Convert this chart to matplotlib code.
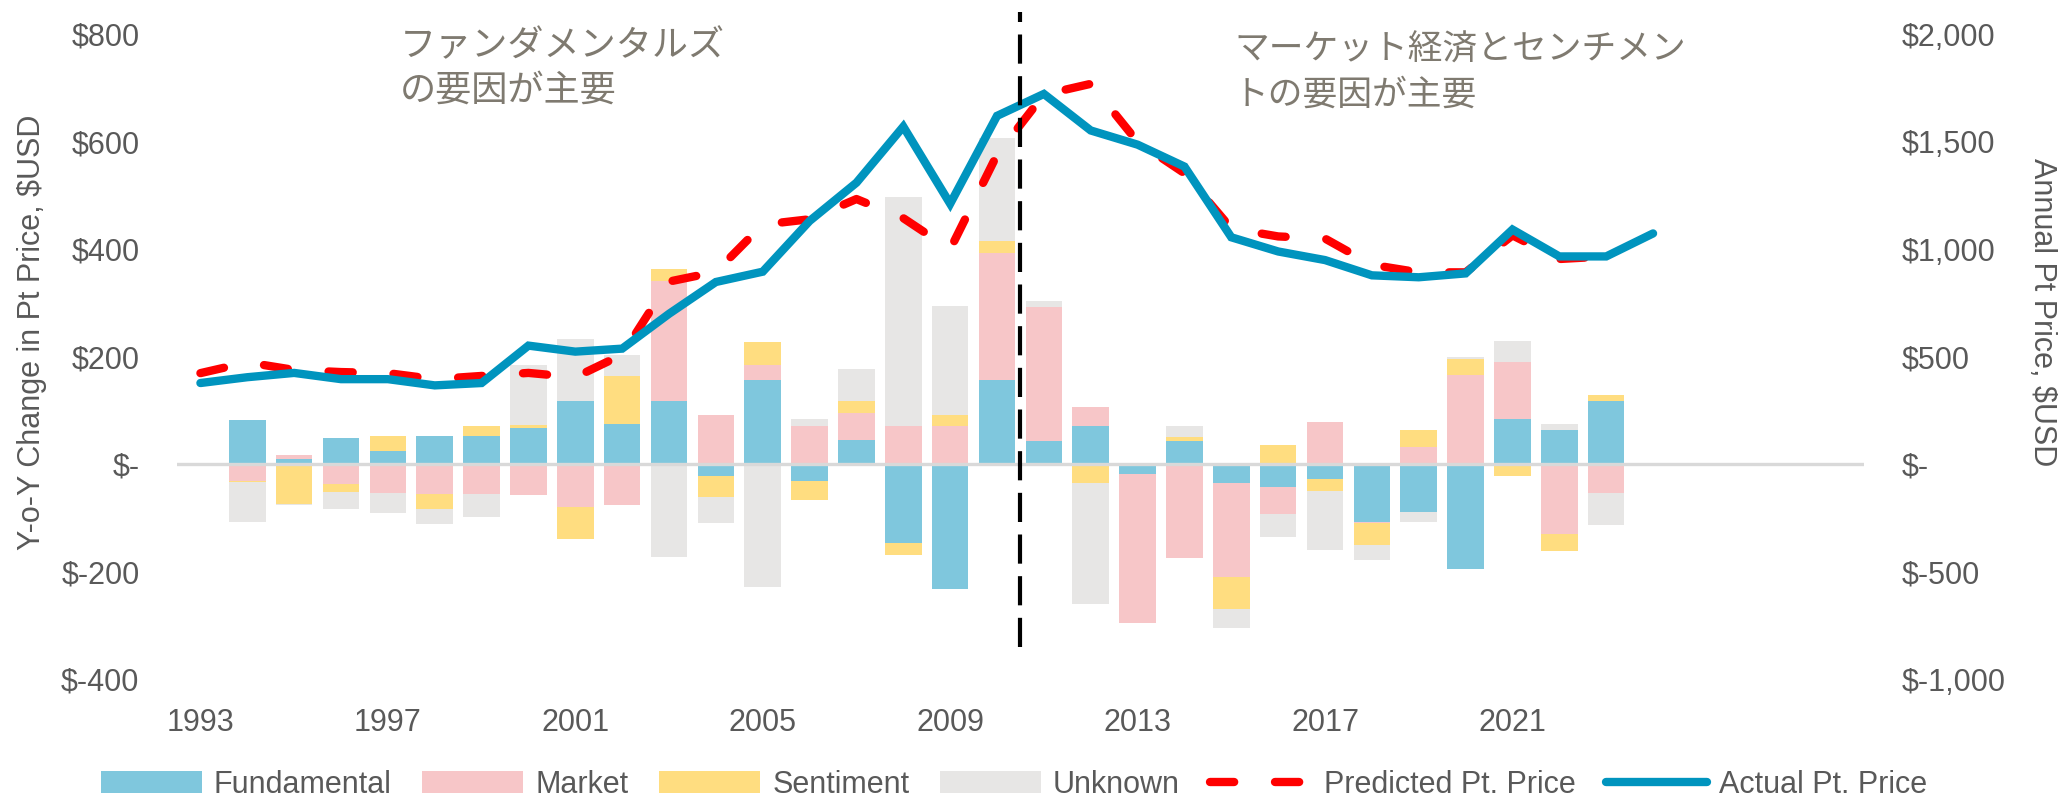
import matplotlib
matplotlib.use("Agg")
import matplotlib.pyplot as plt
from matplotlib.ticker import FixedLocator, FuncFormatter

plt.rcParams['font.family'] = ['Liberation Sans', 'DejaVu Sans']

# ---------------- data ----------------
actual_years = list(range(1993, 2025))
actual_price = [378, 405, 425, 396, 396, 367, 378, 552, 524, 538, 700, 848, 896,
                1132, 1310, 1571, 1212, 1621, 1723, 1553, 1487, 1385, 1056, 990,
                950, 879, 870, 888, 1092, 967, 967, 1074]

pred_years = list(range(1993, 2024))
pred_price = [424, 474, 439, 429, 424, 396, 411, 425, 405, 510, 850, 895, 1115,
              1140, 1234, 1145, 1000, 1440, 1720, 1770, 1500, 1354, 1097, 1060,
              1050, 928, 893, 893, 1065, 955, 967]

bar_years = list(range(1994, 2024))
fundamental = [82, 9, 49, 25, 53, 53, 67, 117, 75, 117, -21, 156, -32, 46, -147,
               -232, 156, 43, 71, -19, 43, -35, -43, -28, -108, -89, -195, 85, 64, 117]
market = [-31, 8, -36, -54, -55, -55, -58, -79, -75, 224, 92, 28, 71, 50, 71, 71,
          238, 249, 35, -276, -175, -175, -50, 78, -1, 32, 167, 106, -129, -53]
sentiment = [-2, -74, -15, 28, -28, 18, 7, -60, 89, 22, -40, 43, -35, 21, -21, 21,
             21, 0, -35, 0, 7, -60, 35, -21, -41, 32, 28, -21, -32, 11]
unknown = [-75, -2, -32, -36, -28, -43, 111, 117, 39, -172, -48, -229, 14, 60, 427,
           203, 193, 11, -225, 0, 21, -35, -43, -110, -28, -18, 4, 39, 11, -60]

series_names = ['Fundamental', 'Market', 'Sentiment', 'Unknown']
series_values = [fundamental, market, sentiment, unknown]
series_colors = ['#7FC7DD', '#F7C6C8', '#FFDD80', '#E7E6E5']

x_first, x_last = 1993, 2028
x_tick_years = [1993, 1997, 2001, 2005, 2009, 2013, 2017, 2021]
left_ticks = [-400, -200, 0, 200, 400, 600, 800]
right_ticks = [-1000, -500, 0, 500, 1000, 1500, 2000]
divider_year = 2010.5

left_note = "ファンダメンタルズ\nの要因が主要"
right_note = "マーケット経済とセンチメン\nトの要因が主要"

# ---------------- figure ----------------
fig = plt.figure(figsize=(20.58, 8), dpi=100)
ax = fig.add_axes([0.086, 0.151, 0.8197, 0.806])
ax2 = ax.twinx()

tick_color = '#595959'

# stacked bars with separate positive / negative stacking
pos_base = [0.0] * len(bar_years)
neg_base = [0.0] * len(bar_years)
for name, vals, col in zip(series_names, series_values, series_colors):
    bottoms = []
    for i, v in enumerate(vals):
        if v >= 0:
            bottoms.append(pos_base[i])
            pos_base[i] += v
        else:
            bottoms.append(neg_base[i])
            neg_base[i] += v
    ax.bar(bar_years, vals, bottom=bottoms, width=0.78, color=col,
           edgecolor='none', label=name, zorder=2)

ax.axhline(0, color='#D9D9D9', lw=2.4, zorder=3)

ax.set_xlim(x_first - 0.5, x_last + 0.5)
ax.set_ylim(left_ticks[0], left_ticks[-1])
ax2.set_ylim(right_ticks[0], right_ticks[-1])

ax2.plot(pred_years, pred_price, color='#FF0000', lw=6,
         ls=(0, (2.9, 4.9)), dash_capstyle='round', zorder=4,
         label='Predicted Pt. Price')
ax2.plot(actual_years, actual_price, color='#0094BE', lw=6,
         solid_capstyle='round', solid_joinstyle='miter', zorder=5,
         label='Actual Pt. Price')

# divider
ax2.plot([divider_year, divider_year], [0.05, 1.035], color='black', lw=3,
         ls=(0, (7, 3)), transform=ax2.get_xaxis_transform(), clip_on=False,
         zorder=10)

def money_fmt(v, pos):
    return "$-" if v == 0 else "${:,}".format(int(v))

ax.xaxis.set_major_locator(FixedLocator(x_tick_years))
ax.set_xticklabels([str(y) for y in x_tick_years])
ax.yaxis.set_major_locator(FixedLocator(left_ticks))
ax.yaxis.set_major_formatter(FuncFormatter(money_fmt))
ax2.yaxis.set_major_locator(FixedLocator(right_ticks))
ax2.yaxis.set_major_formatter(FuncFormatter(money_fmt))

for a in (ax, ax2):
    for s in a.spines.values():
        s.set_visible(False)
ax.tick_params(axis='x', length=0, labelsize=22, labelcolor=tick_color, pad=21)
ax.tick_params(axis='y', length=0, labelsize=22, labelcolor=tick_color, pad=27)
ax2.tick_params(axis='y', length=0, labelsize=22, labelcolor=tick_color, pad=27)

fig.text(32 / 2058, 1 - 332 / 800, "Y-o-Y Change in Pt Price, $USD",
         rotation=90, ha='center', va='center', fontsize=22, color=tick_color)
fig.text(2042 / 2058, 1 - 312 / 800, "Annual Pt Price, $USD",
         rotation=270, ha='center', va='center', fontsize=22, color=tick_color)

note_color = '#7F7A70'
cjk = ['Noto Sans CJK JP', 'DejaVu Sans']
fig.text(400 / 2058, 1 - 28 / 800, left_note, ha='left', va='top',
         fontsize=26, color=note_color, family=cjk, linespacing=1.3)
fig.text(1234 / 2058, 1 - 33 / 800, right_note, ha='left', va='top',
         fontsize=25, color=note_color, family=cjk, linespacing=1.35)

h1, l1 = ax.get_legend_handles_labels()
h2, l2 = ax2.get_legend_handles_labels()
fig.legend(h1 + h2[:2], l1 + l2[:2], loc='center', bbox_to_anchor=(0.4927, 0.019),
           ncol=6, frameon=False, fontsize=22, handlelength=3.3,
           handletextpad=0.4, columnspacing=1.0, labelcolor=tick_color)

fig.savefig("out.png", dpi=100)
